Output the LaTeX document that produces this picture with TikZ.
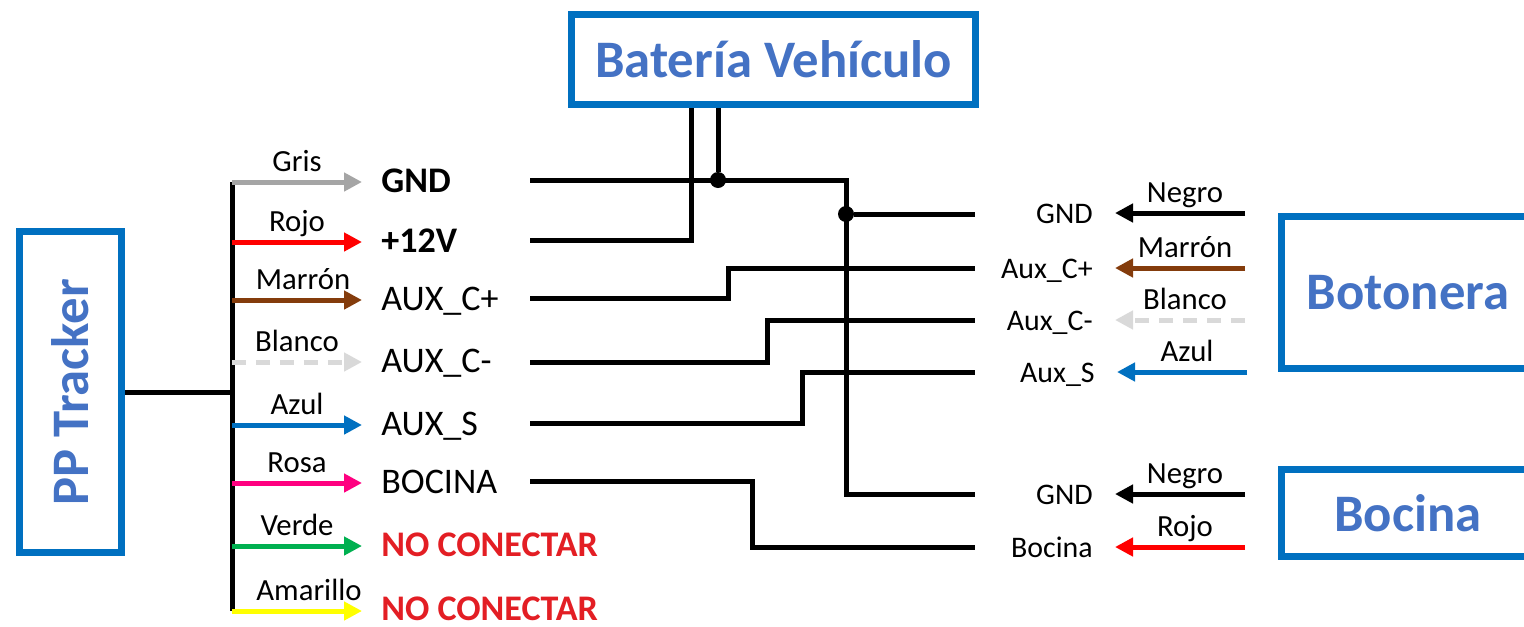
\documentclass[tikz,border=0pt]{standalone}
\usepackage{fontspec}
\usepackage{graphicx}
\setmainfont{Carlito}
\usetikzlibrary{arrows.meta,positioning}
\definecolor{boxblue}{RGB}{0,112,192}
\definecolor{titleblue}{RGB}{68,114,196}
\definecolor{wgris}{RGB}{165,165,165}
\definecolor{wrojo}{RGB}{255,0,0}
\definecolor{wmarron}{RGB}{132,60,12}
\definecolor{wblanco}{RGB}{217,217,217}
\definecolor{wazul}{RGB}{0,112,192}
\definecolor{wrosa}{RGB}{255,0,128}
\definecolor{wverde}{RGB}{0,176,80}
\definecolor{wamarillo}{RGB}{255,255,0}
\definecolor{ncred}{RGB}{227,30,36}
\tikzset{
  devbox/.style={draw=boxblue, line width=0.14cm, text=titleblue, font=\fontsize{30}{36}\selectfont\bfseries, inner sep=0pt},
  wire/.style={line width=0.1cm},
  lead/.style={line width=0.1cm, -{Triangle[length=0.36cm,width=0.36cm]}},
  dashlead/.style={lead, dash pattern=on 0.28cm off 0.2cm},
  leadname/.style={midway, anchor=base, yshift=0.22cm, text=black, font=\fontsize{17.5}{20}\selectfont},
  pinname/.style={anchor=base west, inner sep=0pt, font=\fontsize{20.5}{24}\selectfont},
  rpinname/.style={anchor=base east, inner sep=0pt, font=\fontsize{17}{20}\selectfont},
  joint/.style={circle, fill=black, inner sep=0pt, minimum size=0.32cm}
}
\begin{document}
\begin{tikzpicture}[x=0.02cm,y=-0.02cm]
\useasboundingbox (0,0) rectangle (1524,626);

% devices
\node [devbox, minimum width=2.04cm, minimum height=6.42cm] (tracker) at (70.5,392) {\rotatebox{90}{PP Tracker}};
\node [devbox, minimum width=8.08cm, minimum height=1.8cm] (bat) at (773.5,59.5) {Batería Vehículo};
\node [devbox, minimum width=5.08cm, minimum height=3.04cm] (boton) at (1408,292.5) {Botonera};
\node [devbox, minimum width=5.08cm, minimum height=1.74cm] (bocina) at (1408,513) {Bocina};

% tracker bus
\coordinate (bustop) at (232,182);
\coordinate (busbot) at (232,611);
\draw [wire] (tracker.east) -- (tracker.east -| bustop);
\draw [wire] (bustop) -- (busbot);

% tracker leads
\coordinate (gris0) at (232,182);     \coordinate (gris1) at (362,182);
\coordinate (rojo0) at (232,242);     \coordinate (rojo1) at (362,242);
\coordinate (marron0) at (232,300);   \coordinate (marron1) at (362,300);
\coordinate (blanco0) at (232,362);   \coordinate (blanco1) at (362,362);
\coordinate (azul0) at (232,425);     \coordinate (azul1) at (362,425);
\coordinate (rosa0) at (232,483);     \coordinate (rosa1) at (362,483);
\coordinate (verde0) at (232,546);    \coordinate (verde1) at (362,546);
\coordinate (amarillo0) at (232,611); \coordinate (amarillo1) at (362,611);
\draw [lead, wgris] (gris0) -- node [leadname] {Gris} (gris1);
\draw [lead, wrojo] (rojo0) -- node [leadname] {Rojo} (rojo1);
\draw [lead, wmarron] (marron0) -- node [leadname, xshift=0.12cm] {Marrón} (marron1);
\draw [dashlead, wblanco] (blanco0) -- node [leadname] {Blanco} (blanco1);
\draw [lead, wazul] (azul0) -- node [leadname] {Azul} (azul1);
\draw [lead, wrosa] (rosa0) -- node [leadname] {Rosa} (rosa1);
\draw [lead, wverde] (verde0) -- node [leadname] {Verde} (verde1);
\draw [lead, wamarillo] (amarillo0) -- node [leadname, xshift=0.24cm] {Amarillo} (amarillo1);

\node [pinname] (pgnd) at ([xshift=0.38cm,yshift=-0.21cm]gris1) {\bfseries GND};
\node [pinname] (ppos) at ([xshift=0.38cm,yshift=-0.21cm]rojo1) {\bfseries +12V};
\node [pinname] (pcp) at ([xshift=0.38cm,yshift=-0.21cm]marron1) {AUX\_C+};
\node [pinname] (pcm) at ([xshift=0.38cm,yshift=-0.21cm]blanco1) {AUX\_C-};
\node [pinname] (ps) at ([xshift=0.38cm,yshift=-0.21cm]azul1) {AUX\_S};
\node [pinname] (pboc) at ([xshift=0.38cm,yshift=-0.21cm]rosa1) {BOCINA};
\node [pinname, text=ncred] (pnc1) at ([xshift=0.38cm,yshift=-0.21cm]verde1) {\bfseries NO CONECTAR};
\node [pinname, text=ncred] (pnc2) at ([xshift=0.38cm,yshift=-0.18cm]amarillo1) {\bfseries NO CONECTAR};

% botonera and bocina leads
\coordinate (bneg0) at (1245,213);  \coordinate (bneg1) at (1115,213);
\coordinate (bmar0) at (1245,268);  \coordinate (bmar1) at (1115,268);
\coordinate (bbla0) at (1245,320);  \coordinate (bbla1) at (1115,320);
\coordinate (bazu0) at (1247,372);  \coordinate (bazu1) at (1117,372);
\coordinate (hneg0) at (1245,494);  \coordinate (hneg1) at (1115,494);
\coordinate (hroj0) at (1245,547);  \coordinate (hroj1) at (1115,547);
\draw [lead, black] (bneg0) -- node [leadname, xshift=0.1cm] {Negro} (bneg1);
\draw [lead, wmarron] (bmar0) -- node [leadname, xshift=0.1cm] {Marrón} (bmar1);
\draw [dashlead, wblanco] (bbla0) -- node [leadname, xshift=0.1cm] {Blanco} (bbla1);
\draw [lead, wazul] (bazu0) -- node [leadname, xshift=0.1cm] {Azul} (bazu1);
\draw [lead, black] (hneg0) -- node [leadname, xshift=0.1cm] {Negro} (hneg1);
\draw [lead, wrojo] (hroj0) -- node [leadname, xshift=0.1cm] {Rojo} (hroj1);

\node [rpinname] (rgnd) at ([xshift=-0.44cm,yshift=-0.2cm]bneg1) {GND};
\node [rpinname] (rcp) at ([xshift=-0.44cm,yshift=-0.2cm]bmar1) {Aux\_C+};
\node [rpinname] (rcm) at ([xshift=-0.44cm,yshift=-0.2cm]bbla1) {Aux\_C-};
\node [rpinname] (rs) at ([xshift=-0.44cm,yshift=-0.2cm]bazu1) {Aux\_S};
\node [rpinname] (hgnd) at ([xshift=-0.44cm,yshift=-0.2cm]hneg1) {GND};
\node [rpinname] (hboc) at ([xshift=-0.44cm,yshift=-0.2cm]hroj1) {Bocina};

% wiring
\coordinate (wgnd) at (530,180);
\coordinate (wpos) at (530,240);
\coordinate (wcp) at (530,298);
\coordinate (wcm) at (530,362);
\coordinate (ws) at (530,423);
\coordinate (wboc) at (530,481);
\coordinate (egnd) at (975,214);
\coordinate (ecp) at (975,268);
\coordinate (ecm) at (975,320);
\coordinate (es) at (975,372);
\coordinate (ehgnd) at (975,494);
\coordinate (eboc) at (975,547);
\coordinate (gndbend) at (846,180);
\coordinate (posbend) at (691,240);
\coordinate (cpbend) at (728,298);
\coordinate (cmbend) at (767,362);
\coordinate (sbend) at (802,423);
\coordinate (bocbend) at (752,481);

\draw [wire] (wgnd) -- (gndbend) |- (ehgnd);
\draw [wire] (wpos) -- (posbend) -- (bat.south -| posbend);
\node [joint] (j1) at (718,180) {};
\draw [wire] (bat.south -| j1) -- (j1);
\node [joint] (j2) at (gndbend |- egnd) {};
\draw [wire] (j2) -- (egnd);
\draw [wire] (wcp) -- (cpbend) |- (ecp);
\draw [wire] (wcm) -- (cmbend) |- (ecm);
\draw [wire] (ws) -- (sbend) |- (es);
\draw [wire] (wboc) -- (bocbend) |- (eboc);
\end{tikzpicture}
\end{document}
